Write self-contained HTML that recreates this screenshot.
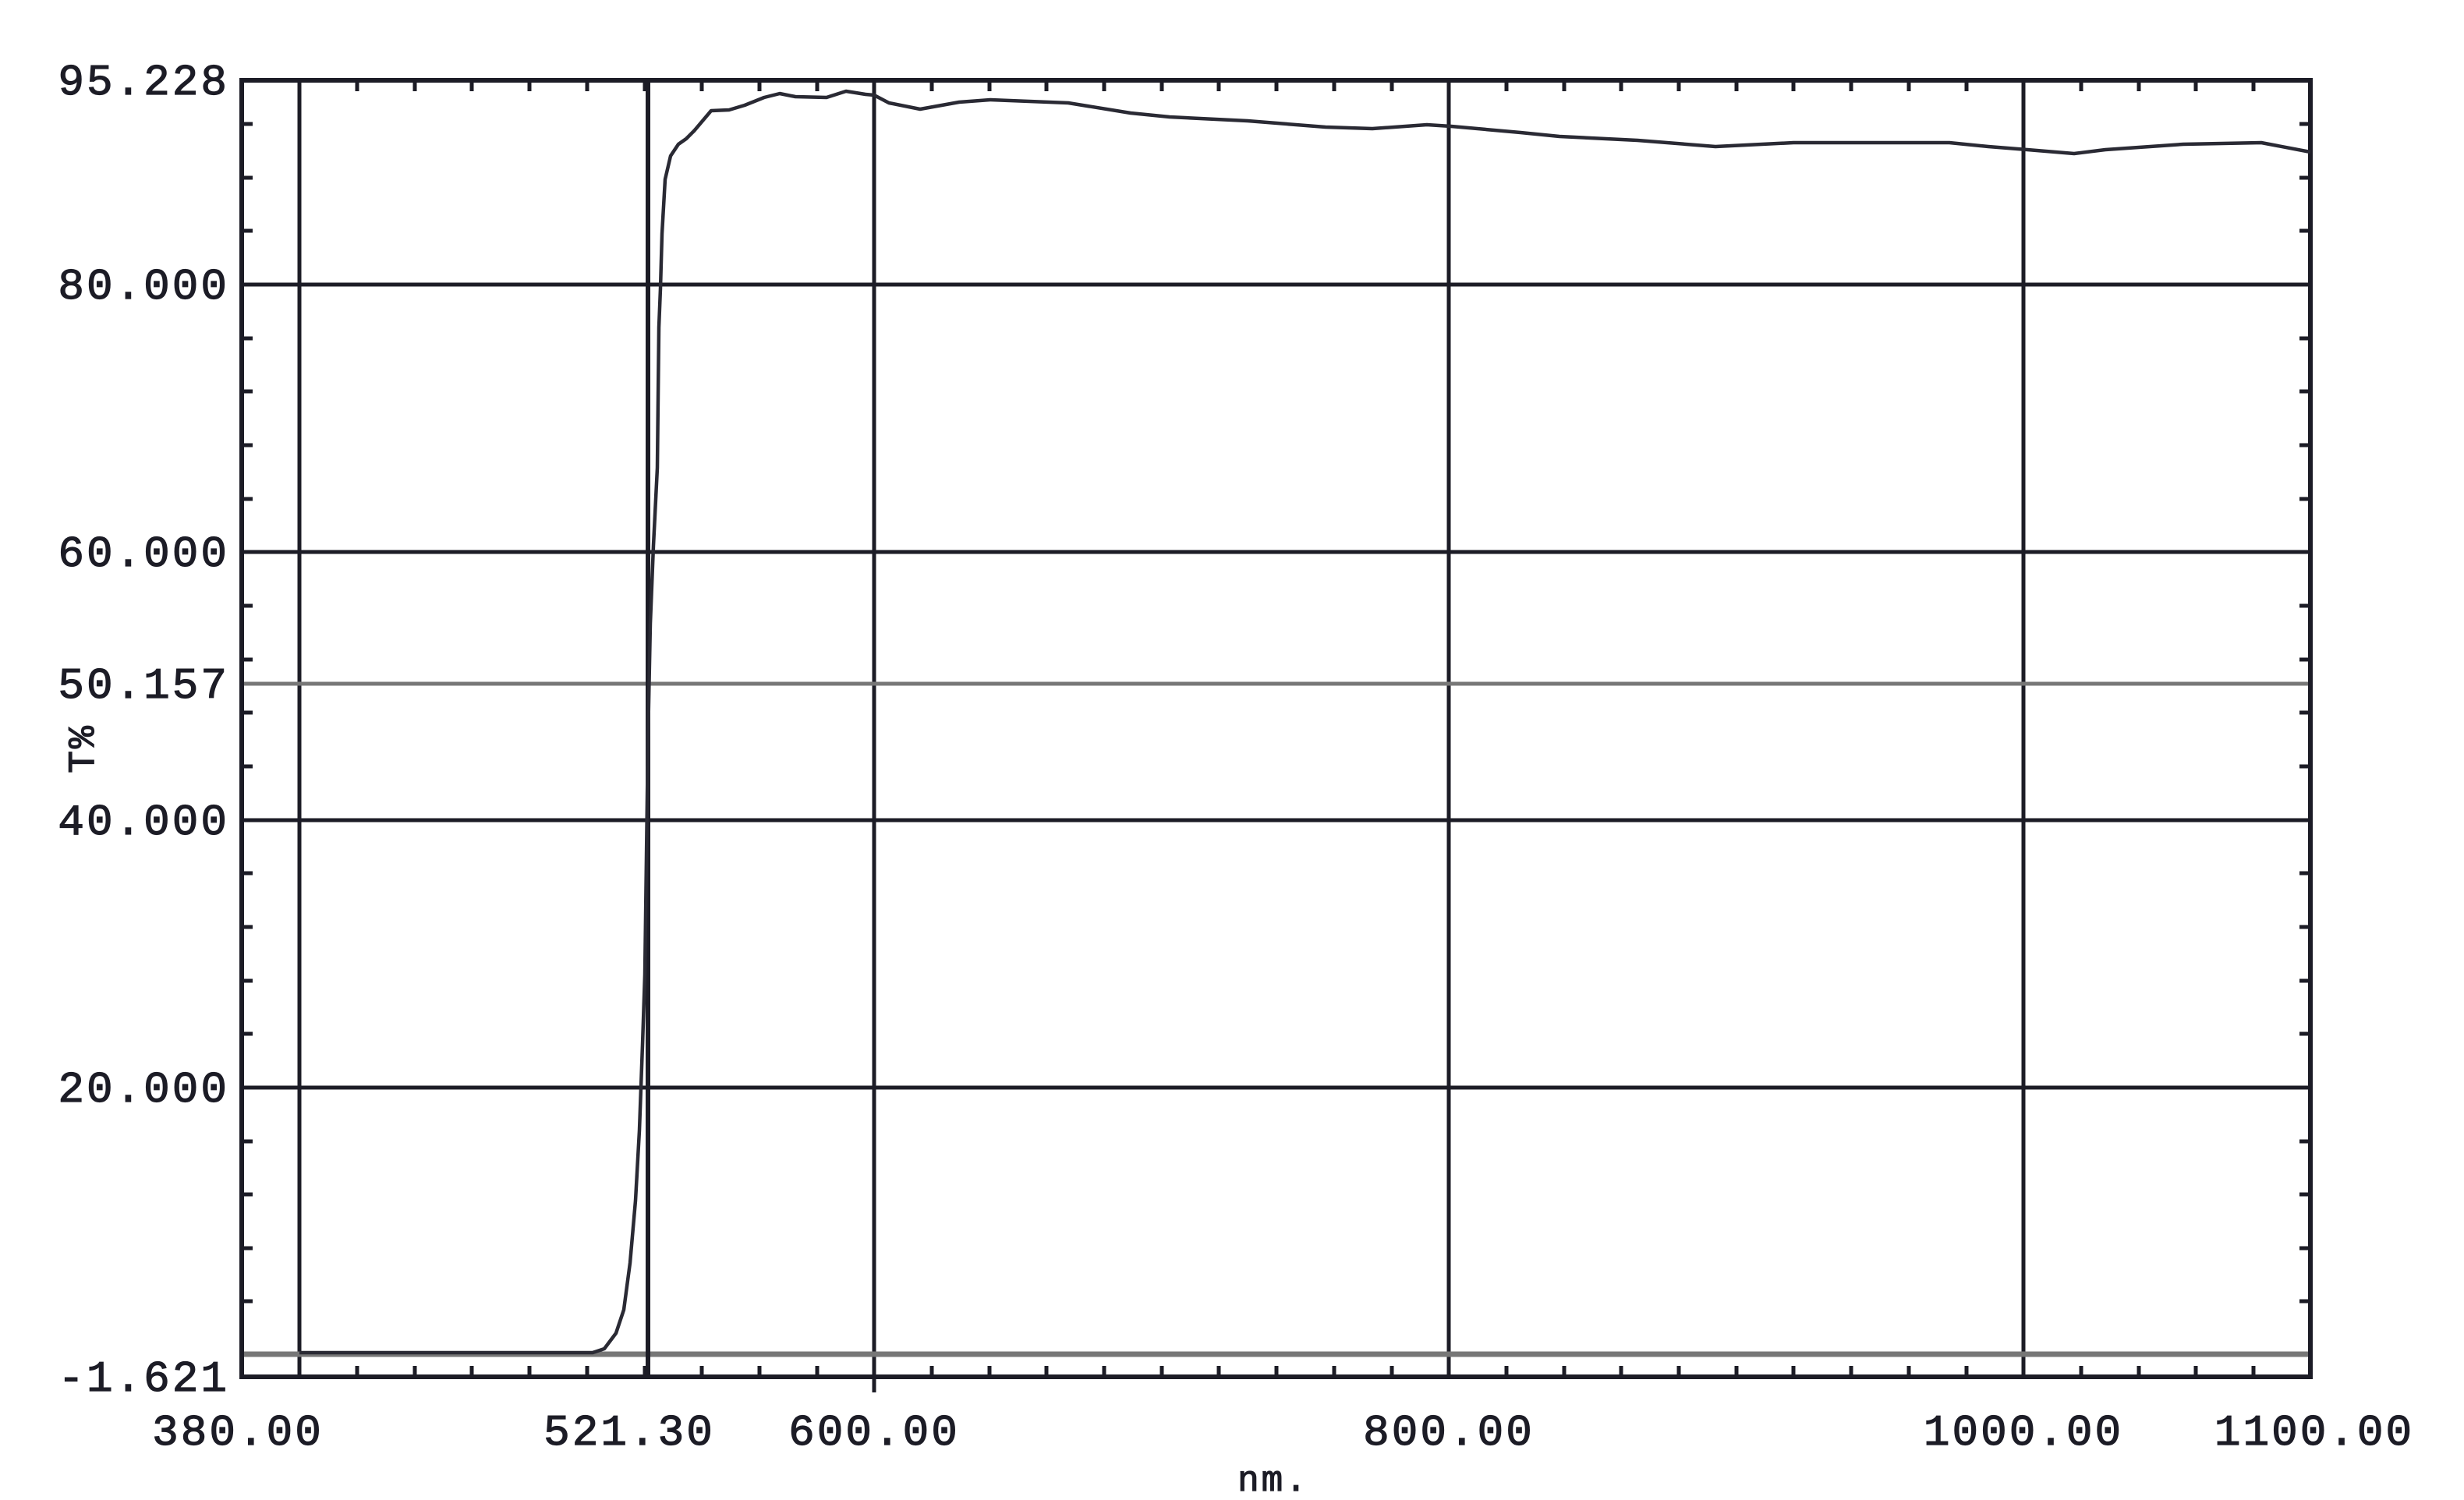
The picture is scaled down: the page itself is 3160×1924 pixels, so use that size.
<!DOCTYPE html>
<html><head><meta charset="utf-8"><style>
html,body{margin:0;padding:0;background:#fff;}
svg{display:block;}
text{font-family:"Liberation Mono","DejaVu Sans Mono",monospace;fill:#1c1c26;font-size:56px;letter-spacing:3px;stroke:#1c1c26;stroke-width:1.2px;}
</style></head><body>
<svg width="3160" height="1924" viewBox="0 0 3160 1924" xmlns="http://www.w3.org/2000/svg">
<rect width="3160" height="1924" fill="#fff"/>
<g stroke="#1c1c26" stroke-width="5" fill="none">
<line x1="310" y1="365" x2="2963" y2="365"/>
<line x1="310" y1="708" x2="2963" y2="708"/>
<line x1="310" y1="1052" x2="2963" y2="1052"/>
<line x1="310" y1="1395" x2="2963" y2="1395"/>
<line x1="384" y1="103" x2="384" y2="1766"/>
<line x1="1121" y1="103" x2="1121" y2="1786"/>
<line x1="1858" y1="103" x2="1858" y2="1766"/>
<line x1="2595" y1="103" x2="2595" y2="1766"/>
</g>
<line x1="310" y1="877" x2="2963" y2="877" stroke="#777" stroke-width="5"/>
<line x1="310" y1="1737" x2="2963" y2="1737" stroke="#777" stroke-width="7"/>
<line x1="831" y1="103" x2="831" y2="1766" stroke="#1c1c26" stroke-width="6"/>
<g stroke="#1c1c26" stroke-width="5">
<path d="M458 1766v-14M532 1766v-14M605 1766v-14M679 1766v-14M753 1766v-14M827 1766v-14M900 1766v-14M974 1766v-14M1048 1766v-14M1195 1766v-14M1269 1766v-14M1342 1766v-14M1416 1766v-14M1490 1766v-14M1563 1766v-14M1637 1766v-14M1711 1766v-14M1785 1766v-14M1932 1766v-14M2006 1766v-14M2079 1766v-14M2153 1766v-14M2227 1766v-14M2300 1766v-14M2374 1766v-14M2448 1766v-14M2522 1766v-14M2669 1766v-14M2743 1766v-14M2816 1766v-14M2890 1766v-14"/>
<path d="M458 103v14M532 103v14M605 103v14M679 103v14M753 103v14M827 103v14M900 103v14M974 103v14M1048 103v14M1195 103v14M1269 103v14M1342 103v14M1416 103v14M1490 103v14M1563 103v14M1637 103v14M1711 103v14M1785 103v14M1932 103v14M2006 103v14M2079 103v14M2153 103v14M2227 103v14M2300 103v14M2374 103v14M2448 103v14M2522 103v14M2669 103v14M2743 103v14M2816 103v14M2890 103v14"/>
<path d="M310 1669h14M310 1601h14M310 1532h14M310 1464h14M310 1326h14M310 1258h14M310 1189h14M310 1120h14M310 983h14M310 914h14M310 846h14M310 777h14M310 640h14M310 571h14M310 502h14M310 434h14M310 296h14M310 228h14M310 159h14"/>
<path d="M2963 1669h-14M2963 1601h-14M2963 1532h-14M2963 1464h-14M2963 1326h-14M2963 1258h-14M2963 1189h-14M2963 1120h-14M2963 983h-14M2963 914h-14M2963 846h-14M2963 777h-14M2963 640h-14M2963 571h-14M2963 502h-14M2963 434h-14M2963 296h-14M2963 228h-14M2963 159h-14"/>
</g>
<rect x="310" y="103" width="2653" height="1663" fill="none" stroke="#1c1c26" stroke-width="6"/>
<path fill="none" stroke="#2a2a34" stroke-width="4.5" stroke-linejoin="round" d="M384 1735 L760 1735 L775 1730 L790 1710 L800 1680 L808 1620 L815 1540 L820 1450 L824 1340 L827 1250 L829 1100 L831 950 L834 800 L838 700 L843 600 L845 420 L847 370 L849 300 L853 230 L860 200 L870 185 L880 178 L890 168 L912 142 L935 141 L955 135 L980 125 L1000 120 L1020 124 L1060 125 L1085 117 L1110 121 L1121 122 L1140 132 L1180 140 L1230 131 L1270 128 L1370 132 L1450 145 L1500 150 L1600 155 L1700 163 L1760 165 L1830 160 L1861 162 L1950 170 L2000 175 L2100 180 L2200 188 L2300 183 L2400 183 L2500 183 L2550 188 L2600 192 L2660 197 L2700 192 L2800 185 L2900 183 L2963 195"/>
<g text-anchor="end">
<text x="294" y="121">95.228</text>
<text x="294" y="383">80.000</text>
<text x="294" y="726">60.000</text>
<text x="294" y="895">50.157</text>
<text x="294" y="1070">40.000</text>
<text x="294" y="1413">20.000</text>
<text x="294" y="1784">-1.621</text>
</g>
<g text-anchor="middle">
<text x="305" y="1853">380.00</text>
<text x="807" y="1853">521.30</text>
<text x="1121" y="1853">600.00</text>
<text x="1858" y="1853">800.00</text>
<text x="2595" y="1853">1000.00</text>
<text x="2968" y="1853">1100.00</text>
<text x="1633" y="1912" style="font-size:46px">nm.</text>
</g>
<text x="0" y="0" text-anchor="middle" style="font-size:48px" transform="translate(120,960) rotate(-90)">T%</text>
</svg>
</body></html>
